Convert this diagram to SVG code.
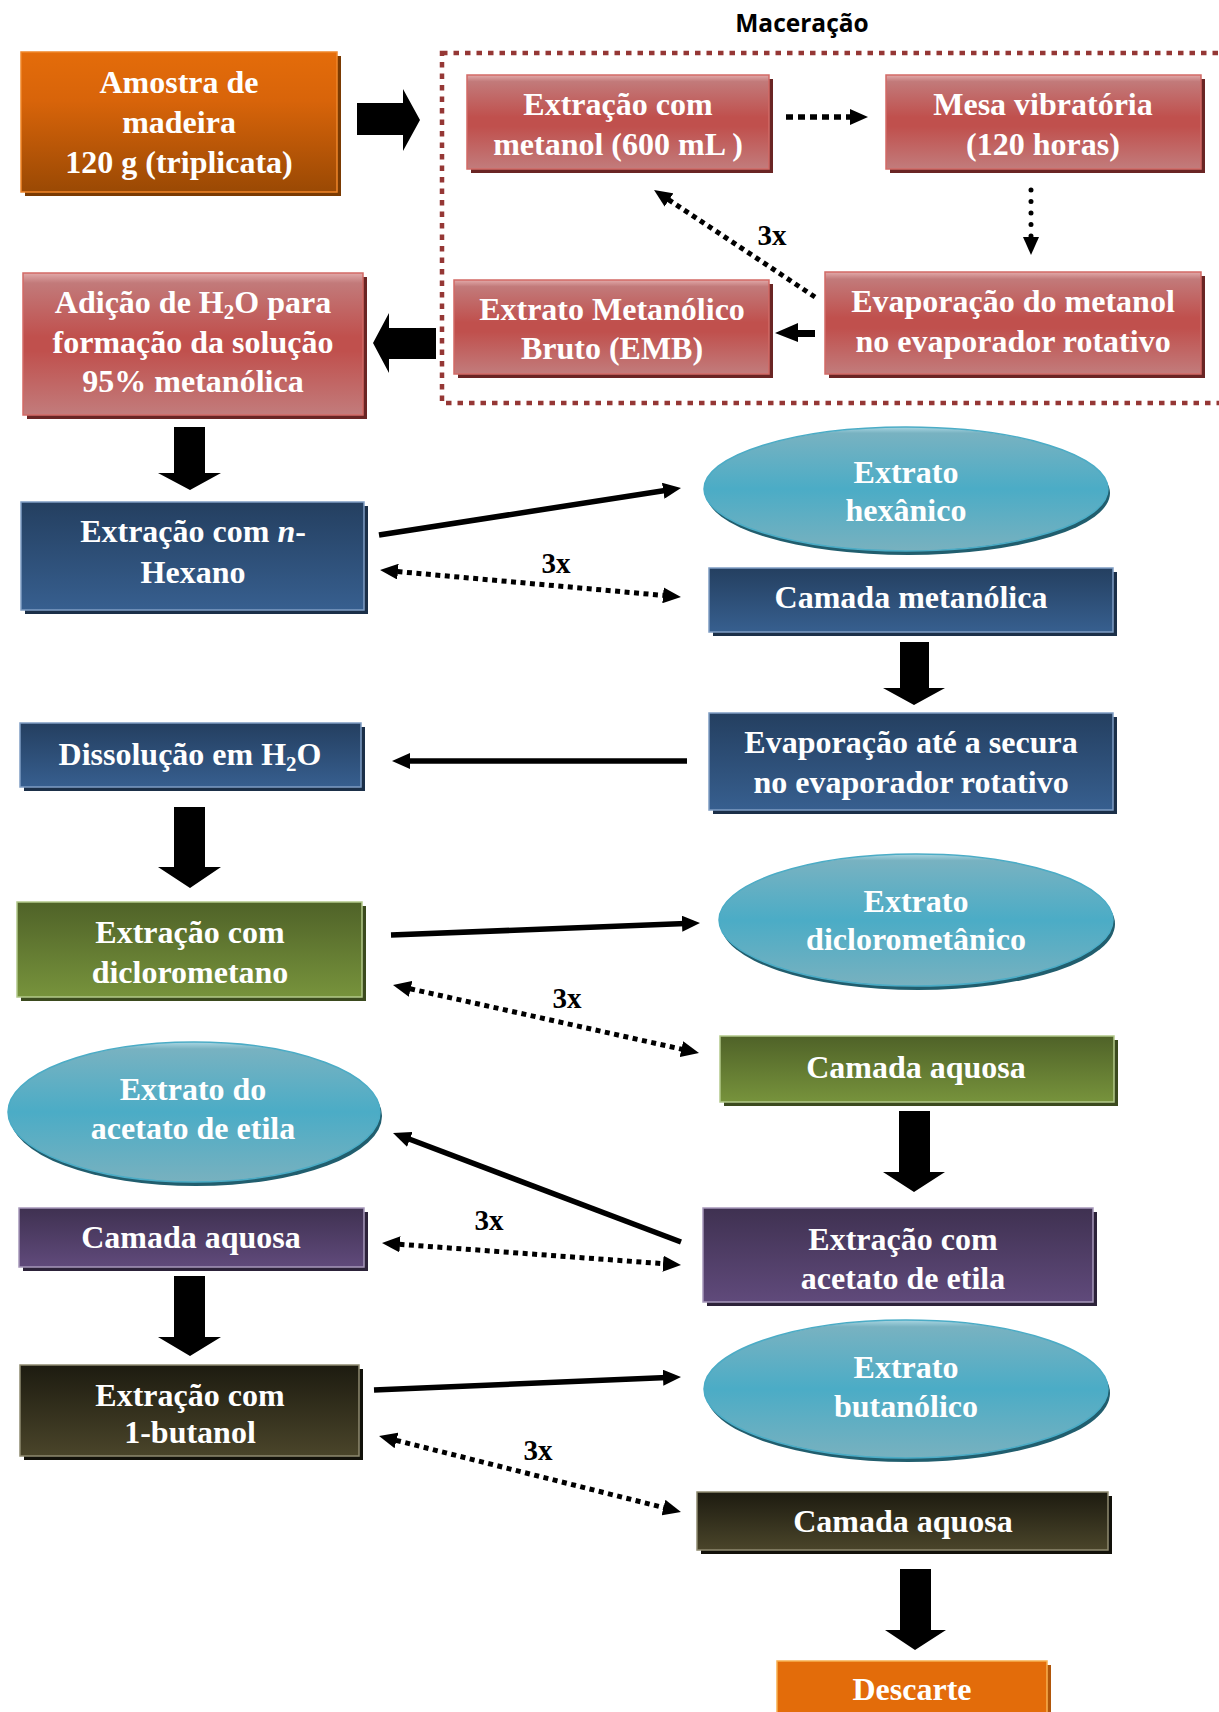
<svg xmlns="http://www.w3.org/2000/svg" width="1219" height="1712" viewBox="0 0 1219 1712">
<style>
.t{font-family:"Liberation Serif","Times New Roman",serif;font-weight:bold;font-size:32px;fill:#fff;text-anchor:middle}
.lbl{font-family:"Liberation Serif","Times New Roman",serif;font-weight:bold;font-size:29px;fill:#000;text-anchor:middle}
.mac{font-family:"Open Sans","Noto Sans",sans-serif;font-weight:bold;font-size:24.5px;fill:#000;text-anchor:middle}
.solid{stroke:#000;stroke-width:5.5;fill:none}
.dash{stroke:#000;stroke-width:5;fill:none;stroke-dasharray:5 4.5}
.blk{fill:#000}
</style>
<defs>
<marker id="ah" viewBox="0 0 18 16" markerWidth="18" markerHeight="16" refX="10" refY="8" markerUnits="userSpaceOnUse" orient="auto-start-reverse"><path d="M0,0 L18,8 L0,16 Z" fill="#000"/></marker>
<linearGradient id="gOr" x1="0" y1="0" x2="0" y2="1"><stop offset="0" stop-color="#E46C0A"/><stop offset="0.35" stop-color="#D8640A"/><stop offset="1" stop-color="#9A4904"/></linearGradient>
<linearGradient id="gRed" x1="0" y1="0" x2="0" y2="1"><stop offset="0" stop-color="#E2AAAA"/><stop offset="0.07" stop-color="#C27A7A"/><stop offset="0.45" stop-color="#C0504D"/><stop offset="0.55" stop-color="#C0504D"/><stop offset="1" stop-color="#C27C7C"/></linearGradient>
<linearGradient id="gBlue" x1="0" y1="0" x2="0" y2="1"><stop offset="0" stop-color="#243F60"/><stop offset="1" stop-color="#375F8F"/></linearGradient>
<linearGradient id="gGreen" x1="0" y1="0" x2="0" y2="1"><stop offset="0" stop-color="#4F6228"/><stop offset="1" stop-color="#77933C"/></linearGradient>
<linearGradient id="gPur" x1="0" y1="0" x2="0" y2="1"><stop offset="0" stop-color="#3F3151"/><stop offset="1" stop-color="#604A7B"/></linearGradient>
<linearGradient id="gDark" x1="0" y1="0" x2="0" y2="1"><stop offset="0" stop-color="#1D1B10"/><stop offset="1" stop-color="#4A452A"/></linearGradient>
<linearGradient id="gEl" x1="0" y1="0" x2="0" y2="1"><stop offset="0" stop-color="#A9D6E2"/><stop offset="0.05" stop-color="#78B2C1"/><stop offset="0.5" stop-color="#4BACC6"/><stop offset="1" stop-color="#78B1BF"/></linearGradient>
</defs>
<rect width="1219" height="1712" fill="#fff"/>

<g id="maceracao">
<text class="mac" x="802" y="32">Maceração</text>
<rect x="442" y="53" width="790" height="350" fill="none" stroke="#953735" stroke-width="4.5" stroke-dasharray="5.5 6"/>
</g>

<g id="n-amostra">
<rect x="25" y="56" width="316" height="140" fill="#7A3A02"/>
<rect x="21" y="52" width="316" height="140" fill="url(#gOr)" stroke="#F0862A" stroke-width="1.5"/>
<text class="t" x="179" y="93">Amostra de</text>
<text class="t" x="179" y="133">madeira</text>
<text class="t" x="179" y="173">120 g (triplicata)</text>
</g>

<g id="n-extr-metanol">
<rect x="471" y="79" width="302" height="94" fill="#6A2524"/>
<rect x="467" y="75" width="302" height="94" fill="url(#gRed)" stroke="#D26A66" stroke-width="1.5"/>
<text class="t" x="618" y="115">Extração com</text>
<text class="t" x="618" y="155">metanol (600 mL )</text>
</g>

<g id="n-mesa">
<rect x="890" y="79" width="315" height="94" fill="#6A2524"/>
<rect x="886" y="75" width="315" height="94" fill="url(#gRed)" stroke="#D26A66" stroke-width="1.5"/>
<text class="t" x="1043" y="115">Mesa vibratória</text>
<text class="t" x="1043" y="155">(120 horas)</text>
</g>

<g id="n-evap-metanol">
<rect x="829" y="276" width="376" height="102" fill="#6A2524"/>
<rect x="825" y="272" width="376" height="102" fill="url(#gRed)" stroke="#D26A66" stroke-width="1.5"/>
<text class="t" x="1013" y="312">Evaporação do metanol</text>
<text class="t" x="1013" y="352">no evaporador rotativo</text>
</g>

<g id="n-emb">
<rect x="458" y="284" width="315" height="94" fill="#6A2524"/>
<rect x="454" y="280" width="315" height="94" fill="url(#gRed)" stroke="#D26A66" stroke-width="1.5"/>
<text class="t" x="612" y="320">Extrato Metanólico</text>
<text class="t" x="612" y="359">Bruto (EMB)</text>
</g>

<g id="n-adicao">
<rect x="27" y="277" width="340" height="142" fill="#6A2524"/>
<rect x="23" y="273" width="340" height="142" fill="url(#gRed)" stroke="#D26A66" stroke-width="1.5"/>
<text class="t" x="193" y="313">Adição de H<tspan font-size="21" dy="6">2</tspan><tspan dy="-6">O para</tspan></text>
<text class="t" x="193" y="353">formação da solução</text>
<text class="t" x="193" y="392">95% metanólica</text>
</g>

<g id="n-hexano">
<rect x="25" y="506" width="343" height="108" fill="#1B2F48"/>
<rect x="21" y="502" width="343" height="108" fill="url(#gBlue)" stroke="#7F9DC3" stroke-width="1.5"/>
<text class="t" x="193" y="542">Extração com <tspan font-style="italic">n</tspan>-</text>
<text class="t" x="193" y="583">Hexano</text>
</g>

<g id="n-ext-hexanico">
<ellipse cx="908" cy="493" rx="202" ry="62" fill="#215E6E"/>
<ellipse cx="906" cy="489" rx="202" ry="62" fill="url(#gEl)" stroke="#4BACC6" stroke-width="1.5"/>
<text class="t" x="906" y="483">Extrato</text>
<text class="t" x="906" y="521">hexânico</text>
</g>

<g id="n-camada-metanolica">
<rect x="713" y="572" width="404" height="64" fill="#1B2F48"/>
<rect x="709" y="568" width="404" height="64" fill="url(#gBlue)" stroke="#7F9DC3" stroke-width="1.5"/>
<text class="t" x="911" y="608">Camada metanólica</text>
</g>

<g id="n-evap-secura">
<rect x="713" y="717" width="404" height="97" fill="#1B2F48"/>
<rect x="709" y="713" width="404" height="97" fill="url(#gBlue)" stroke="#7F9DC3" stroke-width="1.5"/>
<text class="t" x="911" y="753">Evaporação até a secura</text>
<text class="t" x="911" y="793">no evaporador rotativo</text>
</g>

<g id="n-dissolucao">
<rect x="24" y="727" width="341" height="64" fill="#1B2F48"/>
<rect x="20" y="723" width="341" height="64" fill="url(#gBlue)" stroke="#7F9DC3" stroke-width="1.5"/>
<text class="t" x="190" y="765">Dissolução em H<tspan font-size="21" dy="6">2</tspan><tspan dy="-6">O</tspan></text>
</g>

<g id="n-diclorometano">
<rect x="21" y="906" width="345" height="95" fill="#3B4A1E"/>
<rect x="17" y="902" width="345" height="95" fill="url(#gGreen)" stroke="#B3C98A" stroke-width="1.5"/>
<text class="t" x="190" y="943">Extração com</text>
<text class="t" x="190" y="983">diclorometano</text>
</g>

<g id="n-ext-dicloro">
<ellipse cx="918" cy="924" rx="197" ry="66" fill="#215E6E"/>
<ellipse cx="916" cy="920" rx="197" ry="66" fill="url(#gEl)" stroke="#4BACC6" stroke-width="1.5"/>
<text class="t" x="916" y="912">Extrato</text>
<text class="t" x="916" y="950">diclorometânico</text>
</g>

<g id="n-aquosa-verde">
<rect x="724" y="1040" width="394" height="66" fill="#3B4A1E"/>
<rect x="720" y="1036" width="394" height="66" fill="url(#gGreen)" stroke="#B3C98A" stroke-width="1.5"/>
<text class="t" x="916" y="1078">Camada aquosa</text>
</g>

<g id="n-ext-acetato">
<ellipse cx="196" cy="1116" rx="186" ry="70" fill="#215E6E"/>
<ellipse cx="194" cy="1112" rx="186" ry="70" fill="url(#gEl)" stroke="#4BACC6" stroke-width="1.5"/>
<text class="t" x="193" y="1100">Extrato do</text>
<text class="t" x="193" y="1139">acetato de etila</text>
</g>

<g id="n-extr-acetato">
<rect x="707" y="1212" width="390" height="94" fill="#2C2239"/>
<rect x="703" y="1208" width="390" height="94" fill="url(#gPur)" stroke="#A698BA" stroke-width="1.5"/>
<text class="t" x="903" y="1250">Extração com</text>
<text class="t" x="903" y="1289">acetato de etila</text>
</g>

<g id="n-aquosa-roxa">
<rect x="23" y="1212" width="345" height="59" fill="#2C2239"/>
<rect x="19" y="1208" width="345" height="59" fill="url(#gPur)" stroke="#A698BA" stroke-width="1.5"/>
<text class="t" x="191" y="1248">Camada aquosa</text>
</g>

<g id="n-butanol">
<rect x="24" y="1369" width="339" height="91" fill="#12110A"/>
<rect x="20" y="1365" width="339" height="91" fill="url(#gDark)" stroke="#8F8A70" stroke-width="1.5"/>
<text class="t" x="190" y="1406">Extração com</text>
<text class="t" x="190" y="1443">1-butanol</text>
</g>

<g id="n-ext-butanolico">
<ellipse cx="908" cy="1393" rx="202" ry="69" fill="#215E6E"/>
<ellipse cx="906" cy="1389" rx="202" ry="69" fill="url(#gEl)" stroke="#4BACC6" stroke-width="1.5"/>
<text class="t" x="906" y="1378">Extrato</text>
<text class="t" x="906" y="1417">butanólico</text>
</g>

<g id="n-aquosa-escura">
<rect x="701" y="1496" width="411" height="58" fill="#12110A"/>
<rect x="697" y="1492" width="411" height="58" fill="url(#gDark)" stroke="#8F8A70" stroke-width="1.5"/>
<text class="t" x="903" y="1532">Camada aquosa</text>
</g>

<g id="n-descarte">
<rect x="781" y="1665" width="270" height="60" fill="#B0560A"/>
<rect x="777" y="1661" width="270" height="60" fill="#E36C0A" stroke="#F8B050" stroke-width="1.5"/>
<text class="t" x="912" y="1700">Descarte</text>
</g>

<g id="connectors">
<polygon class="blk" points="357,103 403,103 403,89 420,120 403,151 403,135 357,135"/>
<polygon class="blk" points="436,328 389,328 389,313 373,343 389,373 389,359 436,359"/>
<polygon class="blk" points="815,330 798,330 798,323 775,333 798,342 798,337 815,337"/>
<polygon class="blk" points="174,427 205,427 205,473 221,473 190,490 158,473 174,473"/>
<polygon class="blk" points="174,807 205,807 205,867 221,867 190,888 158,867 174,867"/>
<polygon class="blk" points="174,1276 205,1276 205,1337 221,1337 190,1356 158,1337 174,1337"/>
<polygon class="blk" points="900,642 929,642 929,688 945,688 914,705 883,688 900,688"/>
<polygon class="blk" points="899,1111 930,1111 930,1172 945,1172 914,1192 883,1172 899,1172"/>
<polygon class="blk" points="900,1569 931,1569 931,1630 946,1630 915,1650 885,1630 900,1630"/>

<line x1="786" y1="117" x2="860" y2="117" stroke="#000" stroke-width="5.5" stroke-dasharray="7 5" marker-end="url(#ah)"/>
<line x1="1031" y1="190" x2="1031" y2="247" stroke="#000" stroke-width="5" stroke-dasharray="0 11.5" stroke-linecap="round" marker-end="url(#ah)"/>
<line x1="815" y1="297" x2="660.7" y2="194.4" class="dash" marker-end="url(#ah)"/>
<text class="lbl" x="772" y="245">3x</text>

<line class="solid" x1="379" y1="535" x2="673.1" y2="489.2" marker-end="url(#ah)"/>
<line class="solid" x1="687" y1="761" x2="400" y2="761" marker-end="url(#ah)"/>
<line class="solid" x1="391" y1="935" x2="692" y2="923.3" marker-end="url(#ah)"/>
<line class="solid" x1="681" y1="1242" x2="400.5" y2="1135.8" marker-end="url(#ah)"/>
<line class="solid" x1="374" y1="1390" x2="673" y2="1377.3" marker-end="url(#ah)"/>

<line class="dash" x1="388" y1="570.7" x2="673" y2="596.3" marker-start="url(#ah)" marker-end="url(#ah)"/>
<text class="lbl" x="556" y="573">3x</text>
<line class="dash" x1="400.8" y1="986.7" x2="691.2" y2="1051.3" marker-start="url(#ah)" marker-end="url(#ah)"/>
<text class="lbl" x="567" y="1008">3x</text>
<line class="dash" x1="390" y1="1243.6" x2="673" y2="1264.4" marker-start="url(#ah)" marker-end="url(#ah)"/>
<text class="lbl" x="489" y="1230">3x</text>
<line class="dash" x1="386.8" y1="1438" x2="673.2" y2="1510" marker-start="url(#ah)" marker-end="url(#ah)"/>
<text class="lbl" x="538" y="1460">3x</text>
</g>
</svg>
